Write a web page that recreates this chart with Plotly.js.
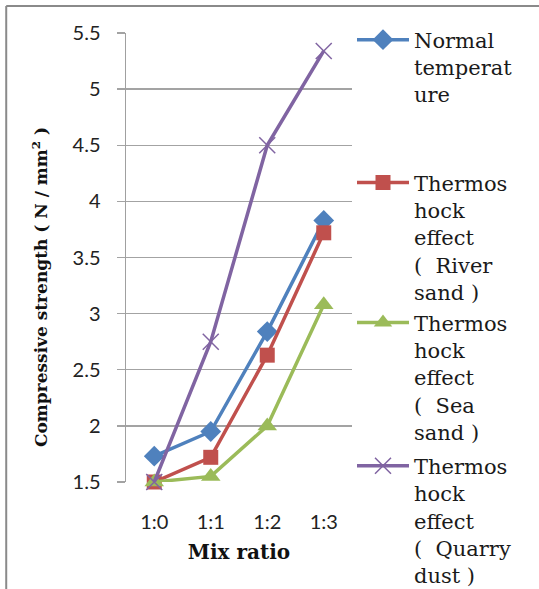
<!DOCTYPE html>
<html>
<head>
<meta charset="utf-8">
<script src="https://cdn.plot.ly/plotly-3.0.1.min.js"></script>
<style>
  html, body { margin: 0; padding: 0; background: #ffffff; }
  #chart { width: 539px; height: 589px; }
</style>
</head>
<body>
<div id="chart"></div>
<script>
// Compressive strength vs mix ratio
const mixRatios = ['1:0', '1:1', '1:2', '1:3'];
const normalTemperature = [1.73, 1.95, 2.84, 3.83];
const riverSand = [1.5, 1.72, 2.63, 3.72];
const seaSand = [1.5, 1.55, 2.0, 3.08];
const quarryDust = [1.5, 2.75, 4.5, 5.34];

const seriesNames = [
  'Normal<br>temperat<br>ure',
  'Thermos<br>hock<br>effect<br>(  River<br>sand )',
  'Thermos<br>hock<br>effect<br>(  Sea<br>sand )',
  'Thermos<br>hock<br>effect<br>(  Quarry<br>dust )'
];

const yTicks = [1.5, 2, 2.5, 3, 3.5, 4, 4.5, 5, 5.5];
const yTickText = ['1.5', '2', '2.5', '3', '3.5', '4', '4.5', '5', '5.5'];

const styles = [
  { color: '#4F81BD', symbol: 'diamond', size: 16 },
  { color: '#C0504D', symbol: 'square', size: 15 },
  { color: '#9BBB59', symbol: 'triangle-up', size: 17 },
  { color: '#8064A2', symbol: 'x-thin-open', size: 16 }
];

const values = [normalTemperature, riverSand, seaSand, quarryDust];

// each series gets its own legend box so the tall wrapped labels stack freely
const legendIds = ['legend', 'legend2', 'legend3', 'legend4'];
const legendTops = [1.030, 0.712, 0.400, 0.081];

const traces = values.map((vals, i) => ({
  type: 'scatter',
  mode: 'lines+markers',
  x: mixRatios,
  y: vals,
  name: seriesNames[i],
  legend: legendIds[i],
  line: { color: styles[i].color, width: 3.5 },
  marker: {
    symbol: styles[i].symbol,
    size: styles[i].size,
    color: styles[i].color,
    line: { color: styles[i].color, width: styles[i].symbol === 'x-thin-open' ? 1.5 : 0 }
  },
  cliponaxis: false
}));

const legendStyle = (top) => ({
  x: 1.0, xanchor: 'left',
  y: top, yanchor: 'top',
  valign: 'top',
  itemwidth: 52,
  font: { family: 'DejaVu Serif', size: 21, color: '#1a1a1a' },
  bgcolor: 'rgba(0,0,0,0)'
});

const layout = {
  width: 539,
  height: 589,
  margin: { l: 126, r: 187, t: 33, b: 107, autoexpand: false },
  paper_bgcolor: '#ffffff',
  plot_bgcolor: '#ffffff',
  showlegend: true,
  xaxis: {
    type: 'category',
    range: [-0.5, 3.5],
    showgrid: false,
    zeroline: false,
    showline: false,
    ticks: '',
    ticklabelstandoff: 26,
    tickfont: { family: 'Lato', size: 20, color: '#222222' },
    title: {
      text: '<b>Mix ratio</b>',
      font: { family: 'DejaVu Serif', size: 20, color: '#111111' },
      standoff: 12
    }
  },
  yaxis: {
    range: [1.5, 5.5],
    tickvals: yTicks,
    ticktext: yTickText,
    showgrid: true,
    gridcolor: '#a3a3a3',
    gridwidth: 1.3,
    zeroline: false,
    showline: true,
    linecolor: '#a0a0a0',
    linewidth: 1.5,
    ticks: 'outside',
    ticklen: 8,
    tickcolor: '#a3a3a3',
    tickwidth: 1.3,
    ticklabelstandoff: 12,
    tickfont: { family: 'Lato', size: 20, color: '#222222' }
  },
  annotations: [{
    text: '<b>Compressive strength ( N / mm<sup>2</sup> )</b>',
    textangle: -90,
    xref: 'paper', yref: 'paper',
    x: -0.381, y: 0.434,
    xanchor: 'center', yanchor: 'middle',
    showarrow: false,
    font: { family: 'DejaVu Serif', size: 17, color: '#111111' }
  }],
  shapes: [
    { type: 'line', xref: 'paper', yref: 'paper', x0: -0.53, x1: 1.83, y0: 1.06, y1: 1.06,
      line: { color: '#8a8a8a', width: 2 } },
    { type: 'line', xref: 'paper', yref: 'paper', x0: -0.53, x1: -0.53, y0: 1.06, y1: -0.25,
      line: { color: '#8a8a8a', width: 2 } }
  ]
};
legendIds.forEach((id, i) => { layout[id] = legendStyle(legendTops[i]); });

Plotly.newPlot('chart', traces, layout, { displayModeBar: false, staticPlot: true });
</script>
</body>
</html>
